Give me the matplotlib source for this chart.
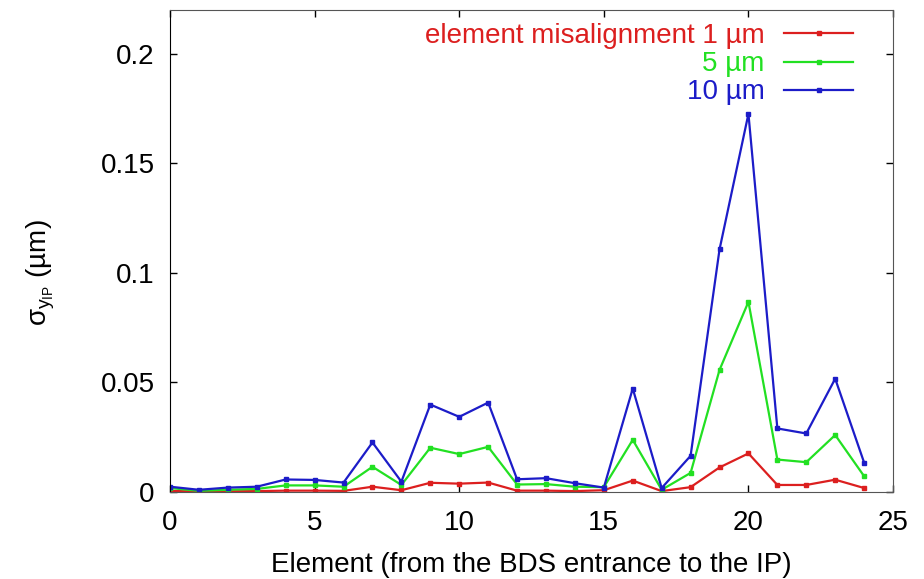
import matplotlib
matplotlib.use("Agg")
import matplotlib.pyplot as plt
import numpy as np

# =====================================
# DATA
# =====================================

elements = np.arange(25)

sigma_1um = [0.0005, 0.0002, 0.0003, 0.0004, 0.0006, 0.0006, 0.0005, 0.0024, 0.0008,
             0.0042, 0.0038, 0.0043, 0.0006, 0.0006, 0.0004, 0.0008, 0.0052, 0.0004,
             0.0022, 0.0112, 0.0176, 0.0032, 0.0032, 0.0056, 0.0018]

sigma_5um = [0.0018, 0.0005, 0.0010, 0.0014, 0.0030, 0.0030, 0.0024, 0.0115, 0.0032,
             0.0202, 0.0173, 0.0206, 0.0034, 0.0036, 0.0024, 0.0022, 0.0238, 0.0010,
             0.0087, 0.0557, 0.0868, 0.0148, 0.0136, 0.0260, 0.0072]

sigma_10um = [0.0024, 0.0010, 0.0020, 0.0024, 0.0057, 0.0055, 0.0043, 0.0226, 0.0047,
              0.0399, 0.0343, 0.0408, 0.0058, 0.0063, 0.0040, 0.0020, 0.0472, 0.0018,
              0.0165, 0.1107, 0.1726, 0.0290, 0.0267, 0.0517, 0.0134]

labels = ["element misalignment 1 µm", "5 µm", "10 µm"]
colors = ["#dc1f1f", "#22e022", "#1c1cc8"]

# =====================================
# PLOT
# =====================================

plt.rcParams['font.family'] = ['Liberation Sans', 'DejaVu Sans']
plt.rcParams['mathtext.fontset'] = 'custom'
plt.rcParams['mathtext.rm'] = 'Liberation Sans'
plt.rcParams['mathtext.it'] = 'Liberation Sans'

FS = 20

fig = plt.figure(figsize=(9.24, 5.79), dpi=100)
ax = fig.add_axes([0.184, 0.1503, 0.7825, 0.8324])

for series, label, color in zip([sigma_1um, sigma_5um, sigma_10um], labels, colors):
    ax.plot(elements, series, color=color, lw=1.6, marker='s', ms=2.2,
            label=label)

ax.set_xlim(0, 25)
ax.set_ylim(0, 0.22)
ax.set_xticks([0, 5, 10, 15, 20, 25])
ax.set_yticks([0, 0.05, 0.1, 0.15, 0.2])
ax.set_yticklabels(["0", "0.05", "0.1", "0.15", "0.2"])

ax.tick_params(direction='in', top=True, right=True, length=5, width=1,
               labelsize=FS)
ax.tick_params(axis='y', pad=11)
ax.tick_params(axis='x', pad=13)
for side in ['top', 'right', 'bottom']:
    ax.spines[side].set_color('#555555')
ax.spines['left'].set_color('black')

ax.set_xlabel("Element (from the BDS entrance to the IP)", fontsize=FS)
ax.xaxis.set_label_coords(0.5, -0.124)
ax.set_ylabel(r"$\sigma_{y_{\mathrm{IP}}}$ (µm)", fontsize=FS)
ax.yaxis.set_label_coords(-0.156, 0.456)

ax.legend(loc='upper right', frameon=False, markerfirst=False,
          labelcolor='linecolor', fontsize=FS, handlelength=2.5,
          handletextpad=0.7, labelspacing=0.08, borderaxespad=0.0,
          borderpad=0.0, bbox_to_anchor=(0.945, 0.973))

plt.savefig("out.png", dpi=100)
